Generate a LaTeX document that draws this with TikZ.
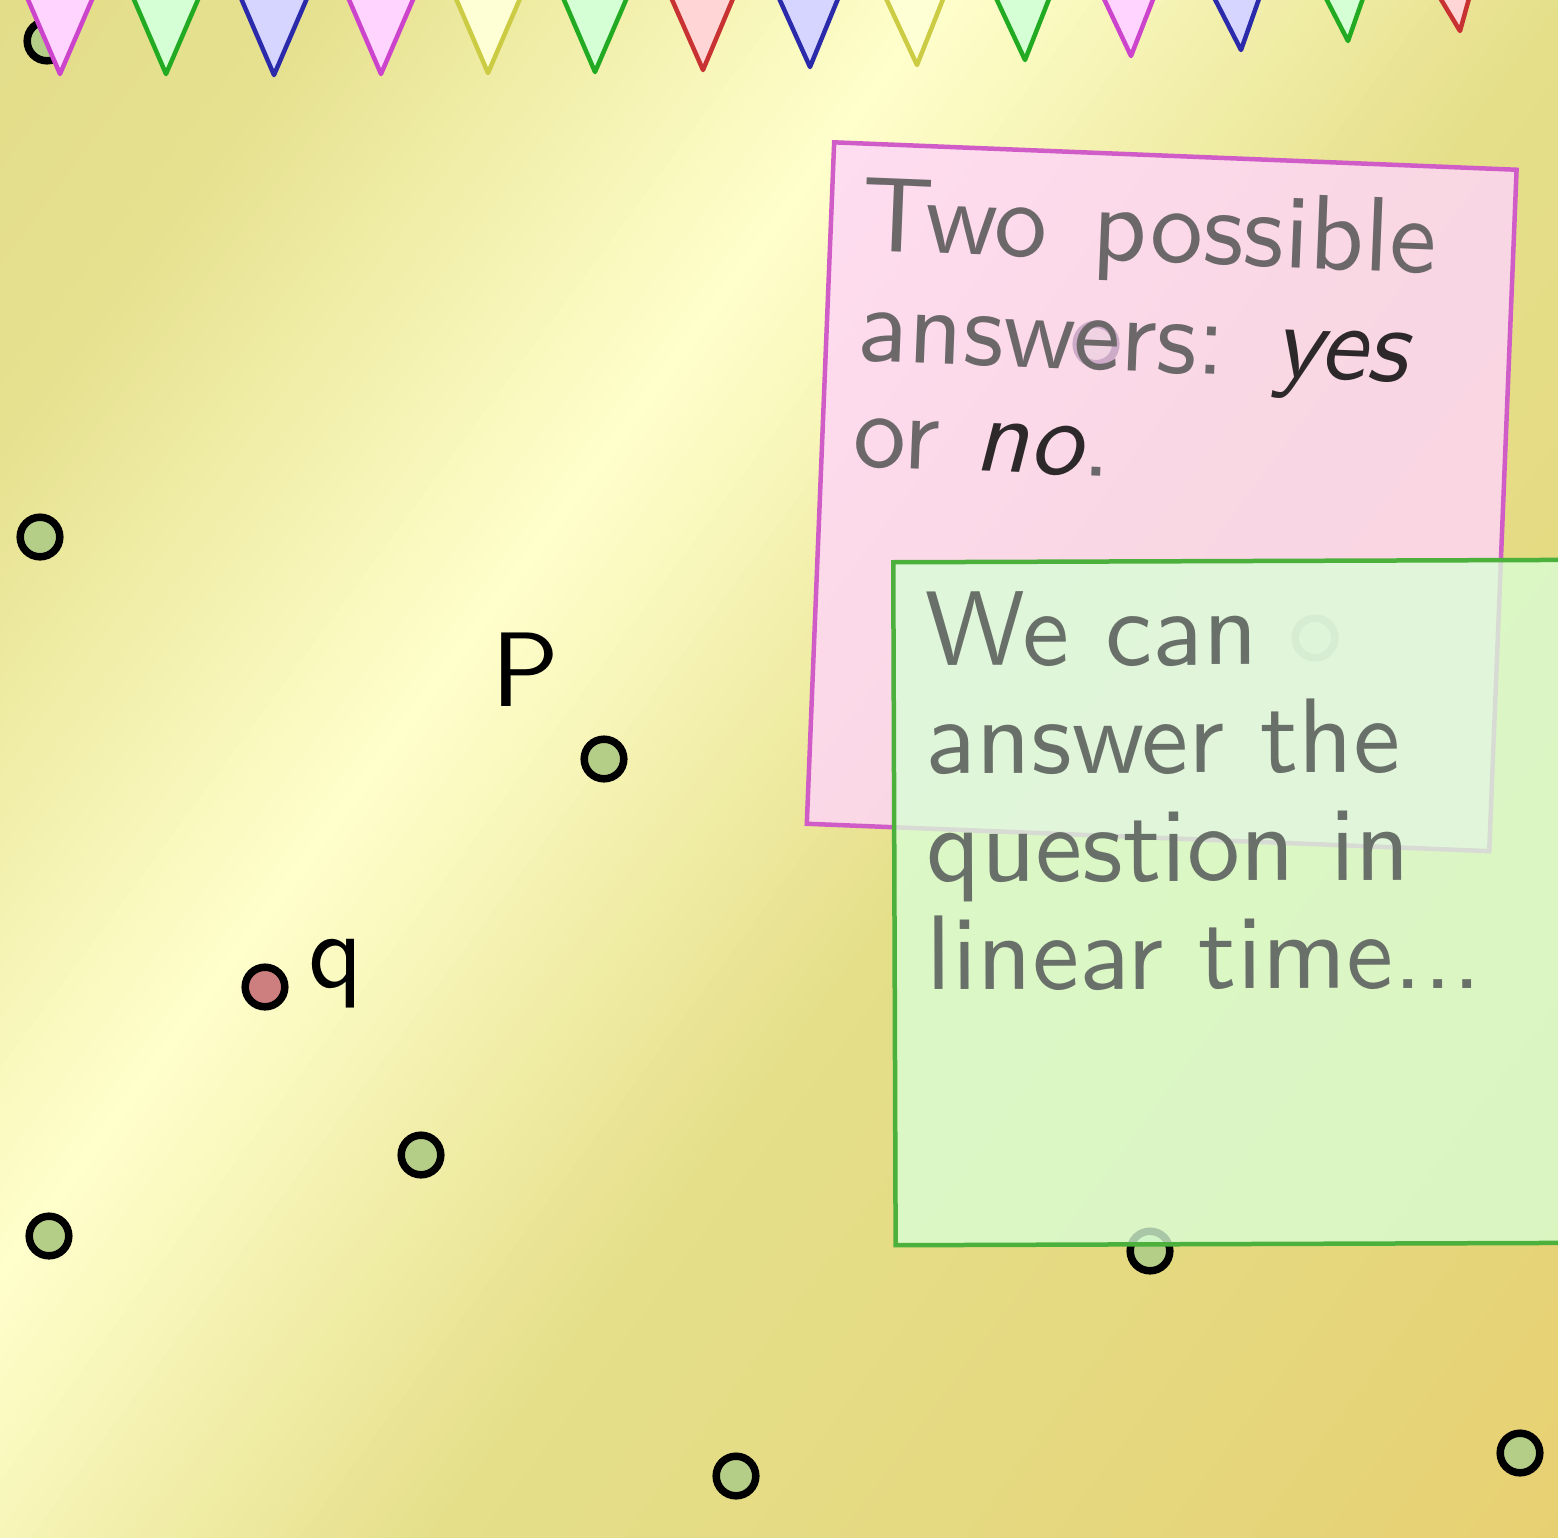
\documentclass[tikz,border=0pt]{standalone}
\usepackage{fontspec}
\newfontfamily\lmsten{lmsans10-regular.otf}[ItalicFont=lmsans10-oblique.otf]
\definecolor{g0}{RGB}{227,221,138}
\definecolor{g1}{RGB}{230,225,143}
\definecolor{g2}{RGB}{255,255,204}
\definecolor{g3}{RGB}{229,223,138}
\definecolor{g4}{RGB}{229,218,130}
\definecolor{g5}{RGB}{231,208,114}
\definecolor{ptfill}{RGB}{180,205,135}
\definecolor{ptred}{RGB}{205,127,127}
\definecolor{pinkfill}{RGB}{255,213,250}
\definecolor{pinkline}{RGB}{208,92,200}
\definecolor{greenfill}{RGB}{217,255,215}
\definecolor{greenline}{RGB}{76,176,60}
\definecolor{txtgray}{RGB}{108,104,106}
\definecolor{txtdark}{RGB}{45,40,42}
\definecolor{txtgreen}{RGB}{105,112,105}
\definecolor{magline}{RGB}{204,68,204}
\definecolor{magfill}{RGB}{255,213,255}
\definecolor{grnline}{RGB}{34,170,34}
\definecolor{grnfill}{RGB}{213,255,213}
\definecolor{bluline}{RGB}{42,42,170}
\definecolor{blufill}{RGB}{213,213,255}
\definecolor{yelline}{RGB}{204,204,68}
\definecolor{yelfill}{RGB}{255,255,213}
\definecolor{redline}{RGB}{200,50,50}
\definecolor{redfill}{RGB}{255,213,213}
\begin{document}
\begin{tikzpicture}[x=1pt,y=-1pt,
  pt/.style={circle, draw=black, line width=7.5pt, fill=ptfill, minimum size=39.6pt, inner sep=0pt},
  bigtext/.style={font=\lmsten\fontsize{106}{108}\selectfont, inner sep=0pt},
  pinktxt/.style={bigtext, text=txtgray, transform shape, anchor=base west},
  greentxt/.style={bigtext, text=txtgreen, transform shape, anchor=base west},
  lbl/.style={bigtext, text=black, anchor=base west},
  pennant/.style={line width=4.5pt, line join=round}]
\useasboundingbox (0,0) rectangle (1558,1537);
\begin{scope}
\clip (0,0) rectangle (1558,1537);
% background gradient
\foreach \k in {0,...,149}{
  \pgfmathsetmacro{\tv}{(\k+0.5)/150}
  \ifdim\tv pt<0.12pt
    \pgfmathtruncatemacro{\pc}{100*\tv/0.12}\colorlet{bgc}{g1!\pc!g0}
  \else\ifdim\tv pt<0.35pt
    \pgfmathtruncatemacro{\pc}{100*(\tv-0.12)/0.23}\colorlet{bgc}{g2!\pc!g1}
  \else\ifdim\tv pt<0.58pt
    \pgfmathtruncatemacro{\pc}{100*(\tv-0.35)/0.23}\colorlet{bgc}{g3!\pc!g2}
  \else\ifdim\tv pt<0.75pt
    \pgfmathtruncatemacro{\pc}{100*(\tv-0.58)/0.17}\colorlet{bgc}{g4!\pc!g3}
  \else
    \pgfmathtruncatemacro{\pc}{100*(\tv-0.75)/0.25}\colorlet{bgc}{g5!\pc!g4}
  \fi\fi\fi\fi
  \pgfmathsetmacro{\sa}{\k*14.44-1}
  \pgfmathsetmacro{\sb}{(\k+1)*14.44+1}
  \fill[bgc] ({\sa*0.8046+950*0.5939},{\sa*0.5939-950*0.8046})
    -- ({\sb*0.8046+950*0.5939},{\sb*0.5939-950*0.8046})
    -- ({\sb*0.8046-1260*0.5939},{\sb*0.5939+1260*0.8046})
    -- ({\sa*0.8046-1260*0.5939},{\sa*0.5939+1260*0.8046}) -- cycle;
}
% points
\node[pt] (p1) at (47,41) {};
\node[pt] (p2) at (40,537) {};
\node[pt] (p3) at (604,759) {};
\node[pt, fill=ptred] (q0) at (265,987) {};
\node[pt] (p4) at (421,1155) {};
\node[pt] (p5) at (49,1236) {};
\node[pt] (p6) at (1150,1251) {};
\node[pt] (p7) at (736,1476) {};
\node[pt] (p8) at (1520,1453) {};
\node[pt] (p9) at (1096,344) {};
\node[pt] (p10) at (1315,638) {};
% pink note
\begin{scope}[shift={(832,140)}, rotate=-2.3]
  \node[draw=pinkline, line width=4.5pt, fill=pinkfill, fill opacity=0.8, minimum width=683pt, minimum height=682pt, inner sep=0pt, anchor=north west, transform shape] (pinkbox) at (0,0) {};
  \node[pinktxt] (pl1) at (33,109) {Two\hspace{10pt} possible};
  \node[pinktxt] (pl2) at (33,219) {answers: {\color{txtdark}\itshape yes}};
  \node[pinktxt] (pl3) at (33,325) {or {\color{txtdark}\itshape no}.};
\end{scope}
% green note
\begin{scope}[shift={(891,560)}, rotate=0.2]
  \node[draw=greenline, line width=4.5pt, fill=greenfill, fill opacity=0.78, minimum width=700pt, minimum height=683pt, inner sep=0pt, anchor=north west, transform shape] (greenbox) at (0,0) {};
  \node[greentxt] (gl1) at (34,106) {We can};
  \node[greentxt] (gl2) at (34,214) {answer the};
  \node[greentxt] (gl3) at (34,322) {question in};
  \node[greentxt] (gl4) at (34,430) {linear time...};
\end{scope}
% pennants
\foreach \x/\y/\a/\c in {60/74/0/mag, 166/74/0/grn, 274/75/0/blu, 381/74/0/mag, 488/73/0/yel, 595/72/0/grn, 703/70/0.5/red, 810/67/1/blu, 917/65/1.7/yel, 1025/60/1.8/grn, 1131/56/2/mag, 1241/50/3.9/blu, 1348/41/4/grn, 1460/31/7.8/red}{
  \draw[pennant, draw=\c line, fill=\c fill, rotate around={\a:(\x,\y)}] (\x,\y) -- ++(-55.9,-130) -- ++(111.8,0) -- cycle;
}
% labels
\node[lbl] (Plabel) at (491,706) {P};
\node[lbl] (qlabel) at (308,987) {q};
\end{scope}
\end{tikzpicture}
\end{document}
